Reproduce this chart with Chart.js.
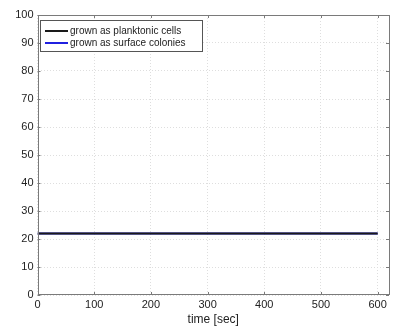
<!DOCTYPE html>
<html>
<head>
<meta charset="utf-8">
<script src="https://cdn.jsdelivr.net/npm/chart.js@4/dist/chart.umd.min.js"></script>
<style>
  html, body { margin: 0; padding: 0; background: #fff; }
  #wrap { width: 393px; height: 327px; }
</style>
</head>
<body>
<div id="wrap"><canvas id="c" width="393" height="327"></canvas></div>
<script>
// time points (sec) and measured values
const timeSec = [0, 600];
const planktonic = [22, 22];
const surfaceColonies = [22, 22];
const xTicks = [0, 100, 200, 300, 400, 500, 600];
const yTicks = [0, 10, 20, 30, 40, 50, 60, 70, 80, 90, 100];

const font = { family: 'Liberation Sans, Arial, sans-serif', size: 11 };

// MATLAB-like box, inside tick marks and legend
const matlabFrame = {
    id: 'matlabFrame',
    afterDatasetsDraw(chart) {
        const { ctx, chartArea: a, scales } = chart;
        ctx.save();
        ctx.strokeStyle = '#7a7a7a';
        ctx.lineWidth = 1;
        ctx.strokeRect(Math.round(a.left) + 0.5, Math.round(a.top) + 0.5,
            Math.round(a.right - a.left) - 1, Math.round(a.bottom - a.top) - 1);
        ctx.beginPath();
        scales.x.ticks.forEach(t => {
            const x = Math.round(scales.x.getPixelForValue(t.value)) + 0.5;
            ctx.moveTo(x, a.bottom); ctx.lineTo(x, a.bottom - 3);
            ctx.moveTo(x, a.top); ctx.lineTo(x, a.top + 3);
        });
        scales.y.ticks.forEach(t => {
            const y = Math.round(scales.y.getPixelForValue(t.value)) + 0.5;
            ctx.moveTo(a.left, y); ctx.lineTo(a.left + 3, y);
            ctx.moveTo(a.right, y); ctx.lineTo(a.right - 3, y);
        });
        ctx.stroke();

        // legend box
        const lx = 40.5, ly = 20.5, lw = 162, lh = 31;
        ctx.fillStyle = '#fff';
        ctx.fillRect(lx, ly, lw, lh);
        ctx.strokeStyle = '#555';
        ctx.strokeRect(lx, ly, lw, lh);
        ctx.font = '10px Liberation Sans, Arial, sans-serif';
        ctx.textBaseline = 'middle';
        chart.data.datasets.forEach((ds, i) => {
            const y = 31 + i * 12;
            ctx.strokeStyle = ds.borderColor;
            ctx.lineWidth = 2;
            ctx.beginPath();
            ctx.moveTo(45, y); ctx.lineTo(68, y);
            ctx.stroke();
            ctx.fillStyle = '#222';
            ctx.fillText(ds.label, 70, y);
        });
        ctx.restore();
    }
};

const gridOpts = { color: '#dedede', drawTicks: false };
const borderOpts = { display: false, dash: [1, 2] };

new Chart(document.getElementById('c'), {
    type: 'line',
    data: {
        datasets: [{
            label: 'grown as planktonic cells',
            data: timeSec.map((t, i) => ({ x: t, y: planktonic[i] })),
            borderColor: '#1a1a1a',
            borderWidth: 2,
            pointRadius: 0,
            fill: false,
            order: 0
        }, {
            label: 'grown as surface colonies',
            data: timeSec.map((t, i) => ({ x: t, y: surfaceColonies[i] })),
            borderColor: '#2020e0',
            borderWidth: 2,
            pointRadius: 0,
            fill: false,
            order: 1
        }]
    },
    options: {
        responsive: false,
        animation: false,
        layout: { padding: { top: 15, right: 4, left: 0, bottom: 0 } },
        plugins: {
            legend: { display: false },
            tooltip: { enabled: false }
        },
        scales: {
            x: {
                type: 'linear',
                min: 0,
                max: 620,
                afterBuildTicks: s => { s.ticks = xTicks.map(v => ({ value: v })); },
                afterFit: s => { s.height = 32; },
                grid: gridOpts,
                border: borderOpts,
                ticks: { color: '#222', font: font, padding: 3, maxRotation: 0 },
                title: {
                    display: true,
                    text: 'time [sec]',
                    color: '#222',
                    font: { family: font.family, size: 12 },
                    padding: { top: -2, bottom: 0 }
                }
            },
            y: {
                min: 0,
                max: 100,
                afterBuildTicks: s => { s.ticks = yTicks.map(v => ({ value: v })); },
                afterFit: s => { s.width = 37.5; },
                grid: gridOpts,
                border: borderOpts,
                ticks: { color: '#222', font: font, padding: 4 }
            }
        }
    },
    plugins: [matlabFrame]
});
</script>
</body>
</html>
